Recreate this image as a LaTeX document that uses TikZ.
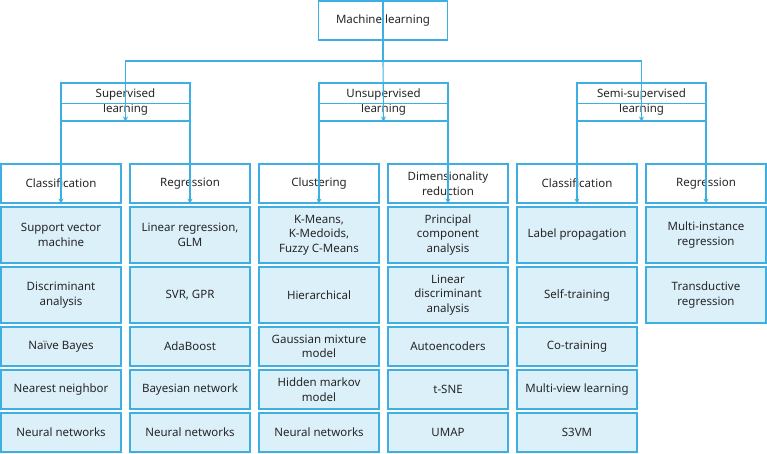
\documentclass[tikz,border=0pt]{standalone}
\usepackage{fontspec}
\setmainfont{Noto Sans}
\usetikzlibrary{arrows.meta}
\begin{document}
\begin{tikzpicture}[x=1pt,y=-1pt,
  bl/.style={draw=lineb,line width=1.1pt},
  box/.style={bl,fill=white,inner sep=0pt,align=center,font=\fontsize{11.5}{14.5}\selectfont,text=black!85},
  leaf/.style={box,fill=fillb},
  arr/.style={draw=lineb,line width=1.1pt,-{Stealth[length=5pt,width=5pt]}}]
\definecolor{lineb}{HTML}{3DAFE3}
\definecolor{fillb}{HTML}{DCF0FA}
\useasboundingbox (0,0) rectangle (767,453);
% note: y axis is flipped, so the "south" anchor is the top edge on the page
\node[box,minimum width=129,minimum height=39] (ml) at (383,20.5) {Machine learning};
\node[box,minimum width=129,minimum height=38] (sup) at (125.5,102) {Supervised\\learning};
\node[box,minimum width=129,minimum height=38] (uns) at (383.5,102) {Unsupervised\\learning};
\node[box,minimum width=129,minimum height=38] (semi) at (641.5,102) {Semi-supervised\\learning};
\coordinate (b1) at (383,61);
\draw[bl] (ml.north) -- (b1);
\draw[arr] (b1) -| (sup.south);
\draw[arr] (b1) -- (uns.south);
\draw[arr] (b1) -| (semi.south);
\foreach \i/\h in {1/Classification,2/Regression,3/Clustering,4/{Dimensionality\\reduction},5/Classification,6/Regression}{
  \node[box,minimum width=120,minimum height=39] (h\i) at ({61+129*(\i-1)},183.5) {\h};
}
\foreach \p/\a/\b in {sup/1/2,uns/3/4,semi/5/6}{
  \coordinate (m\p) at ([yshift=-21]\p.north);
  \draw[bl] (\p.north) -- (m\p);
  \draw[arr] (m\p) -| (h\a.south);
  \draw[arr] (m\p) -| (h\b.south);
}
\def\rows{{235,295,346.5,389.5,432.5}}
\def\hts{{56,56,39,39,39}}
\foreach \c/\r/\t in {
 1/0/{Support vector\\machine},1/1/{Discriminant\\analysis},1/2/{Naïve Bayes},1/3/{Nearest neighbor},1/4/{Neural networks},
 2/0/{Linear regression,\\GLM},2/1/{SVR, GPR},2/2/{AdaBoost},2/3/{Bayesian network},2/4/{Neural networks},
 3/0/{K-Means,\\K-Medoids,\\Fuzzy C-Means},3/1/{Hierarchical},3/2/{Gaussian mixture\\model},3/3/{Hidden markov\\model},3/4/{Neural networks},
 4/0/{Principal\\component\\analysis},4/1/{Linear\\discriminant\\analysis},4/2/{Autoencoders},4/3/{t-SNE},4/4/{UMAP},
 5/0/{Label propagation},5/1/{Self-training},5/2/{Co-training},5/3/{Multi-view learning},5/4/{S3VM},
 6/0/{Multi-instance\\regression},6/1/{Transductive\\regression}}{
  \pgfmathsetmacro\yy{\rows[\r]}\pgfmathsetmacro\hh{\hts[\r]}
  \node[leaf,minimum width=120,minimum height=\hh] (l\c\r) at ({61+129*(\c-1)},\yy) {\t};
}
\end{tikzpicture}
\end{document}
